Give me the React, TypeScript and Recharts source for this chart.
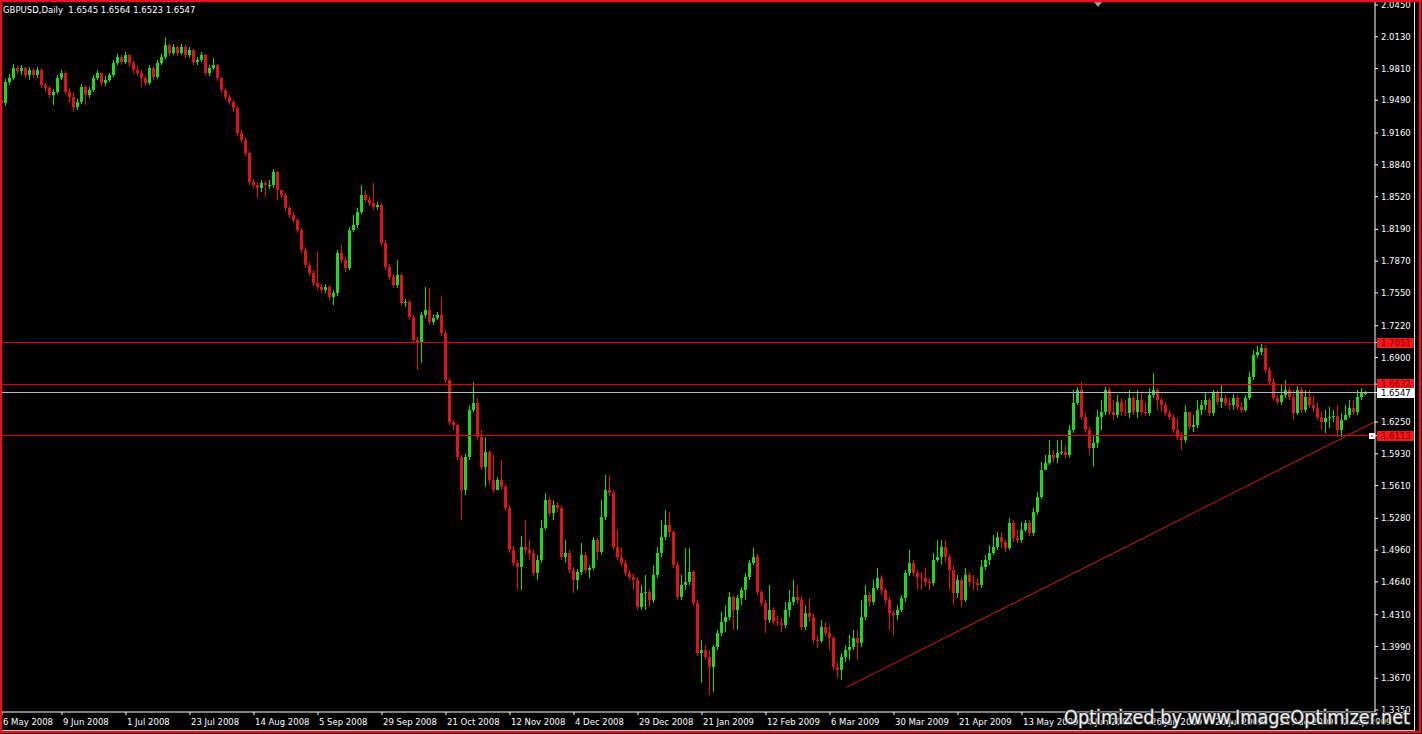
import React from 'react';
import { ComposedChart, Bar, XAxis, YAxis, ReferenceLine, ReferenceDot } from 'recharts';

const symbolTitle = 'GBPUSD,Daily  1.6545 1.6564 1.6523 1.6547';
const watermark = 'Optimized by www.ImageOptimizer.net';

const firstOpen = 1.949;
const closes = [
  1.946,1.967,1.971,1.982,1.979,1.982,1.974,1.980,1.974,1.980,
  1.964,1.961,1.954,1.957,1.971,1.976,1.957,1.952,1.942,1.947,
  1.962,1.954,1.959,1.971,1.976,1.966,1.969,1.974,1.987,1.993,
  1.988,1.995,1.987,1.980,1.977,1.971,1.966,1.982,1.972,1.987,
  1.993,2.005,1.997,2.003,1.997,2.003,1.995,2.000,1.988,1.990,
  1.995,1.976,1.982,1.985,1.971,1.959,1.952,1.947,1.941,1.916,
  1.909,1.896,1.867,1.864,1.861,1.866,1.864,1.864,1.877,1.859,
  1.854,1.841,1.833,1.828,1.818,1.798,1.783,1.775,1.765,1.761,
  1.758,1.761,1.751,1.755,1.795,1.788,1.780,1.818,1.823,1.837,
  1.854,1.849,1.846,1.842,1.844,1.805,1.781,1.771,1.763,1.773,
  1.745,1.746,1.731,1.708,1.705,1.733,1.738,1.726,1.730,1.733,
  1.715,1.667,1.625,1.622,1.590,1.557,1.590,1.637,1.644,1.610,
  1.580,1.595,1.567,1.557,1.567,1.560,1.538,1.496,1.483,1.479,
  1.499,1.496,1.493,1.473,1.486,1.518,1.546,1.533,1.541,1.538,
  1.489,1.493,1.476,1.466,1.474,1.491,1.476,1.478,1.506,1.494,
  1.529,1.557,1.554,1.499,1.489,1.483,1.473,1.469,1.466,1.439,
  1.453,1.454,1.446,1.471,1.493,1.509,1.521,1.514,1.481,1.449,
  1.461,1.464,1.474,1.443,1.392,1.395,1.388,1.378,1.398,1.413,
  1.424,1.429,1.449,1.436,1.448,1.456,1.469,1.483,1.489,1.454,
  1.443,1.426,1.436,1.424,1.423,1.421,1.436,1.444,1.449,1.446,
  1.419,1.433,1.429,1.406,1.404,1.419,1.413,1.408,1.378,1.375,
  1.388,1.395,1.398,1.408,1.402,1.429,1.451,1.444,1.458,1.468,
  1.456,1.446,1.433,1.431,1.436,1.448,1.473,1.483,1.473,1.469,
  1.468,1.464,1.463,1.486,1.489,1.499,1.489,1.476,1.453,1.466,
  1.446,1.471,1.464,1.463,1.461,1.479,1.486,1.493,1.499,1.509,
  1.504,1.498,1.523,1.508,1.506,1.516,1.523,1.513,1.534,1.550,
  1.577,1.584,1.592,1.589,1.594,1.595,1.592,1.617,1.644,1.657,
  1.630,1.617,1.599,1.604,1.630,1.635,1.657,1.635,1.632,1.645,
  1.635,1.634,1.649,1.635,1.647,1.635,1.634,1.652,1.657,1.647,
  1.642,1.634,1.630,1.617,1.610,1.607,1.635,1.620,1.622,1.637,
  1.642,1.647,1.634,1.654,1.645,1.649,1.644,1.642,1.649,1.640,
  1.637,1.649,1.670,1.693,1.696,1.700,1.677,1.665,1.649,1.645,
  1.652,1.657,1.650,1.634,1.657,1.637,1.650,1.642,1.639,1.630,
  1.625,1.629,1.630,1.631,1.617,1.627,1.632,1.639,1.635,1.650,
  1.6545,1.6547,
];
const highs = [
  1.952,1.970,1.975,1.986,1.984,1.985,1.983,1.983,1.982,1.983,
  1.982,1.966,1.963,1.960,1.974,1.980,1.979,1.961,1.957,1.950,
  1.965,1.964,1.962,1.974,1.980,1.977,1.973,1.977,1.990,1.996,
  1.995,1.998,1.996,1.989,1.984,1.980,1.973,1.985,1.984,1.990,
  1.996,2.013,2.006,2.006,2.005,2.006,2.005,2.003,2.001,1.993,
  1.998,1.996,1.985,1.992,1.986,1.972,1.961,1.954,1.949,1.943,
  1.919,1.911,1.898,1.870,1.867,1.869,1.868,1.869,1.880,1.878,
  1.859,1.856,1.843,1.837,1.830,1.820,1.801,1.786,1.778,1.796,
  1.764,1.764,1.763,1.758,1.798,1.803,1.791,1.821,1.833,1.841,
  1.864,1.859,1.853,1.866,1.847,1.846,1.808,1.784,1.774,1.788,
  1.775,1.749,1.748,1.733,1.711,1.736,1.761,1.760,1.733,1.736,
  1.751,1.718,1.670,1.627,1.624,1.592,1.593,1.642,1.665,1.649,
  1.617,1.610,1.597,1.592,1.570,1.587,1.563,1.541,1.500,1.486,
  1.510,1.526,1.506,1.497,1.491,1.526,1.554,1.550,1.546,1.544,
  1.541,1.506,1.496,1.479,1.477,1.503,1.494,1.481,1.509,1.508,
  1.546,1.572,1.572,1.557,1.516,1.498,1.486,1.476,1.472,1.469,
  1.461,1.471,1.457,1.481,1.499,1.526,1.536,1.534,1.516,1.484,
  1.471,1.498,1.498,1.476,1.446,1.406,1.400,1.395,1.400,1.416,
  1.434,1.441,1.454,1.451,1.451,1.459,1.473,1.486,1.498,1.492,
  1.456,1.446,1.461,1.439,1.431,1.428,1.444,1.456,1.466,1.461,
  1.450,1.441,1.448,1.432,1.411,1.426,1.424,1.421,1.410,1.383,
  1.392,1.400,1.411,1.416,1.416,1.446,1.461,1.454,1.466,1.478,
  1.471,1.458,1.449,1.436,1.441,1.451,1.476,1.496,1.486,1.476,
  1.474,1.478,1.468,1.493,1.506,1.506,1.506,1.492,1.480,1.471,
  1.469,1.478,1.474,1.471,1.468,1.486,1.491,1.501,1.511,1.514,
  1.514,1.506,1.528,1.526,1.516,1.524,1.526,1.526,1.538,1.555,
  1.585,1.592,1.607,1.597,1.607,1.607,1.602,1.622,1.657,1.660,
  1.665,1.634,1.620,1.612,1.637,1.647,1.660,1.660,1.647,1.652,
  1.649,1.647,1.657,1.652,1.657,1.655,1.645,1.659,1.674,1.659,
  1.649,1.645,1.637,1.633,1.629,1.615,1.642,1.635,1.632,1.647,
  1.647,1.655,1.649,1.657,1.657,1.662,1.652,1.649,1.653,1.652,
  1.645,1.652,1.675,1.698,1.702,1.704,1.703,1.680,1.669,1.652,
  1.662,1.667,1.660,1.657,1.661,1.660,1.657,1.657,1.652,1.645,
  1.635,1.637,1.640,1.637,1.642,1.634,1.642,1.647,1.647,1.657,
  1.659,1.6564,
];
const lows = [
  1.941,1.943,1.964,1.969,1.975,1.974,1.971,1.969,1.971,1.971,
  1.961,1.957,1.951,1.944,1.955,1.969,1.954,1.946,1.937,1.939,
  1.945,1.944,1.951,1.957,1.969,1.963,1.963,1.967,1.972,1.985,
  1.985,1.986,1.983,1.975,1.973,1.962,1.963,1.964,1.969,1.970,
  1.985,1.991,1.994,1.995,1.994,1.995,1.992,1.992,1.985,1.985,
  1.988,1.973,1.973,1.980,1.968,1.956,1.949,1.944,1.937,1.913,
  1.906,1.893,1.864,1.861,1.851,1.857,1.852,1.860,1.861,1.849,
  1.851,1.838,1.830,1.825,1.815,1.795,1.780,1.772,1.762,1.758,
  1.755,1.755,1.748,1.743,1.752,1.785,1.776,1.778,1.816,1.820,
  1.835,1.846,1.843,1.839,1.839,1.802,1.778,1.768,1.760,1.760,
  1.742,1.741,1.728,1.705,1.677,1.684,1.730,1.723,1.723,1.728,
  1.712,1.664,1.622,1.617,1.587,1.526,1.552,1.587,1.635,1.607,
  1.577,1.560,1.562,1.554,1.557,1.557,1.535,1.493,1.480,1.456,
  1.456,1.491,1.486,1.470,1.466,1.483,1.516,1.530,1.526,1.534,
  1.486,1.483,1.473,1.453,1.456,1.471,1.473,1.468,1.476,1.486,
  1.491,1.526,1.551,1.496,1.486,1.480,1.470,1.466,1.456,1.436,
  1.436,1.436,1.439,1.443,1.468,1.489,1.506,1.509,1.478,1.446,
  1.446,1.456,1.461,1.440,1.389,1.362,1.385,1.350,1.353,1.395,
  1.410,1.414,1.426,1.416,1.416,1.441,1.446,1.466,1.481,1.451,
  1.440,1.413,1.423,1.421,1.420,1.414,1.418,1.429,1.441,1.442,
  1.416,1.416,1.424,1.402,1.397,1.402,1.410,1.395,1.375,1.367,
  1.365,1.383,1.385,1.395,1.385,1.398,1.426,1.439,1.441,1.456,
  1.451,1.441,1.416,1.411,1.426,1.434,1.444,1.470,1.470,1.456,
  1.456,1.459,1.456,1.460,1.484,1.481,1.484,1.456,1.441,1.448,
  1.439,1.444,1.460,1.456,1.456,1.458,1.476,1.481,1.491,1.496,
  1.498,1.494,1.496,1.504,1.503,1.503,1.514,1.510,1.510,1.531,
  1.547,1.577,1.582,1.585,1.584,1.592,1.589,1.589,1.614,1.642,
  1.627,1.614,1.592,1.580,1.599,1.617,1.632,1.632,1.627,1.629,
  1.631,1.631,1.629,1.632,1.629,1.632,1.631,1.631,1.649,1.637,
  1.635,1.631,1.627,1.614,1.607,1.597,1.604,1.617,1.615,1.619,
  1.632,1.637,1.631,1.631,1.642,1.639,1.641,1.637,1.637,1.637,
  1.634,1.635,1.647,1.667,1.689,1.693,1.674,1.662,1.646,1.642,
  1.642,1.649,1.647,1.627,1.632,1.634,1.635,1.639,1.635,1.627,
  1.617,1.614,1.619,1.625,1.610,1.610,1.627,1.629,1.632,1.632,
  1.647,1.6523,
];

const xTickIndex = [0, 15, 31, 47, 63, 79, 95, 111, 127, 143, 159, 175, 191, 207, 223, 239, 255, 271, 287, 303, 319, 335];
const xTickLabels = [
  '6 May 2008', '9 Jun 2008', '1 Jul 2008', '23 Jul 2008', '14 Aug 2008', '5 Sep 2008',
  '29 Sep 2008', '21 Oct 2008', '12 Nov 2008', '4 Dec 2008', '29 Dec 2008', '21 Jan 2009',
  '12 Feb 2009', '6 Mar 2009', '30 Mar 2009', '21 Apr 2009', '13 May 2009', '4 Jun 2009',
  '26 Jun 2009', '20 Jul 2009', '11 Aug 2009', '2 Sep 2009',
];
const yTickValues = [
  2.045, 2.013, 1.981, 1.949, 1.916, 1.884, 1.852, 1.819, 1.787, 1.755, 1.722,
  1.69, 1.625, 1.593, 1.561, 1.528, 1.496, 1.464, 1.431, 1.399, 1.367, 1.335,
];
const levels = [1.7051, 1.6632, 1.6113];
const currentPrice = 1.6547;
const trendStart = { x: 211.2, y: 1.358 };
const trendEnd = { x: 343.25, y: 1.6254 };
const xDomain = [-0.5, 343.25];
const yDomain = [1.333, 2.048];
const shiftMarkerIndex = 274;
const anchorIndex = 342.5;

const UP = '#1fd81f';
const DOWN = '#e01414';
const LEVEL = '#e00000';
const FONT = '"DejaVu Sans", Verdana, sans-serif';

const data = closes.map((c, i) => ({
  i,
  o: i === 0 ? firstOpen : closes[i - 1],
  h: highs[i],
  l: lows[i],
  c,
}));

const Candle = (props: any) => {
  const { x, y, width, height, payload } = props;
  if (!payload) return null;
  const { o, h, l, c } = payload;
  const top = Math.min(y, y + height);
  const hpx = Math.abs(height);
  const k = hpx / (h - l || 1e-6);
  const py = (v: number) => top + (h - v) * k;
  const cx = Math.floor(x + width / 2);
  const color = c >= o ? UP : DOWN;
  const yo = py(o);
  const yc = py(c);
  const bt = Math.round(Math.min(yo, yc));
  const bb = Math.round(Math.max(yo, yc));
  const wt = Math.round(top);
  const wb = Math.round(top + hpx);
  return (
    <g shapeRendering="crispEdges">
      <rect x={cx} y={wt} width={1} height={Math.max(1, wb - wt)} fill={color} />
      <rect x={cx - 1} y={bt} width={3} height={Math.max(1, bb - bt)} fill={color} />
    </g>
  );
};

const XTick = (props: any) => {
  const { x, y, payload } = props;
  const idx = xTickIndex.indexOf(payload.value);
  const label = idx >= 0 ? xTickLabels[idx] : '';
  return (
    <text x={x + 1} y={y} dy="0.71em" fill="#ffffff" fontSize={8.5} fontFamily={FONT} textAnchor="start">
      {label}
    </text>
  );
};

const YTick = (props: any) => {
  const { x, y, payload } = props;
  const v = payload.value as number;
  if (levels.includes(v)) {
    return (
      <g>
        <rect x={x - 4} y={Math.round(y) - 5} width={37} height={10} fill="#f01818" />
        <text x={x} y={y} dy="0.36em" fill="#8c0000" fontSize={8.5} fontFamily={FONT}>{v.toFixed(4)}</text>
      </g>
    );
  }
  if (v === currentPrice) {
    return (
      <g>
        <rect x={x - 4} y={Math.round(y) - 5} width={37} height={10} fill="#ffffff" />
        <text x={x} y={y} dy="0.36em" fill="#000000" fontSize={8.5} fontFamily={FONT}>{v.toFixed(4)}</text>
      </g>
    );
  }
  return (
    <text x={x} y={y} dy="0.36em" fill="#ffffff" fontSize={8.5} fontFamily={FONT}>{v.toFixed(4)}</text>
  );
};

const ShiftMarker = (props: any) => {
  const { cx, cy } = props;
  return <polygon points={`${cx - 4},${cy} ${cx + 4},${cy} ${cx},${cy + 5}`} fill="#9a9a9a" />;
};

const AnchorMarker = (props: any) => {
  const { cx, cy } = props;
  return (
    <g shapeRendering="crispEdges">
      <rect x={Math.round(cx) - 3} y={Math.round(cy) - 3} width={6} height={6} fill="#ffffff" />
      <rect x={Math.round(cx) - 1} y={Math.round(cy) - 1} width={2} height={2} fill="#ff6060" />
    </g>
  );
};

export default function App() {
  return (
    <div style={{ position: 'relative', width: 1422, height: 734, background: '#000000', overflow: 'hidden' }}>
      <style>{'body{margin:0;background:#000;}'}</style>
      <ComposedChart width={1422} height={734} data={data} margin={{ top: 2, right: 0, bottom: 0, left: 0 }}>
        <XAxis
          dataKey="i"
          type="number"
          domain={xDomain}
          allowDataOverflow
          ticks={xTickIndex}
          interval={0}
          height={22}
          tickSize={3}
          tickMargin={4}
          axisLine={{ stroke: '#ffffff' }}
          tickLine={{ stroke: '#ffffff' }}
          tick={(p: any) => <XTick {...p} />}
        />
        <YAxis
          orientation="right"
          type="number"
          domain={yDomain}
          allowDataOverflow
          ticks={[...yTickValues, ...levels, currentPrice]}
          interval={0}
          width={47}
          tickSize={3}
          tickMargin={3}
          axisLine={{ stroke: '#ffffff' }}
          tickLine={{ stroke: '#ffffff' }}
          tick={(p: any) => <YTick {...p} />}
        />
        {levels.map((lv) => (
          <ReferenceLine key={lv} y={lv} stroke={LEVEL} strokeWidth={1} shapeRendering="crispEdges" />
        ))}
        <ReferenceLine y={currentPrice} stroke="#b8b8b8" strokeWidth={1} shapeRendering="crispEdges" />
        <Bar
          dataKey={(d: any) => [d.l, d.h]}
          barSize={3}
          isAnimationActive={false}
          shape={(p: any) => <Candle {...p} />}
        />
        <ReferenceLine
          segment={[trendStart, trendEnd]}
          stroke="#d41a1a"
          strokeWidth={1}
          ifOverflow="visible"
        />
        <ReferenceDot x={anchorIndex} y={levels[2]} r={3} ifOverflow="visible" shape={(p: any) => <AnchorMarker {...p} />} />
        <ReferenceDot x={shiftMarkerIndex} y={yDomain[1]} r={3} ifOverflow="visible" shape={(p: any) => <ShiftMarker {...p} />} />
      </ComposedChart>
      <svg width={1422} height={734} style={{ position: 'absolute', left: 0, top: 0, pointerEvents: 'none' }}>
        <text x={3} y={13} fill="#ffffff" fontSize={8.5} fontFamily={FONT} style={{ whiteSpace: 'pre' }}>{symbolTitle}</text>
        <line x1={1414.5} y1={0} x2={1414.5} y2={731} stroke="#e8e8e8" strokeWidth={1} />
        <line x1={0} y1={730.5} x2={1415} y2={730.5} stroke="#e8e8e8" strokeWidth={1} />
        <text
          x={1064}
          y={724}
          fill="#f2f2f2"
          stroke="#3a3a3a"
          strokeWidth={2}
          paintOrder="stroke"
          fontSize={19}
          fontFamily={FONT}
          textLength={346}
          lengthAdjust="spacingAndGlyphs"
        >
          {watermark}
        </text>
        <rect x={1} y={1} width={1419} height={731} fill="none" stroke="#e3141c" strokeWidth={2.5} />
      </svg>
    </div>
  );
}
